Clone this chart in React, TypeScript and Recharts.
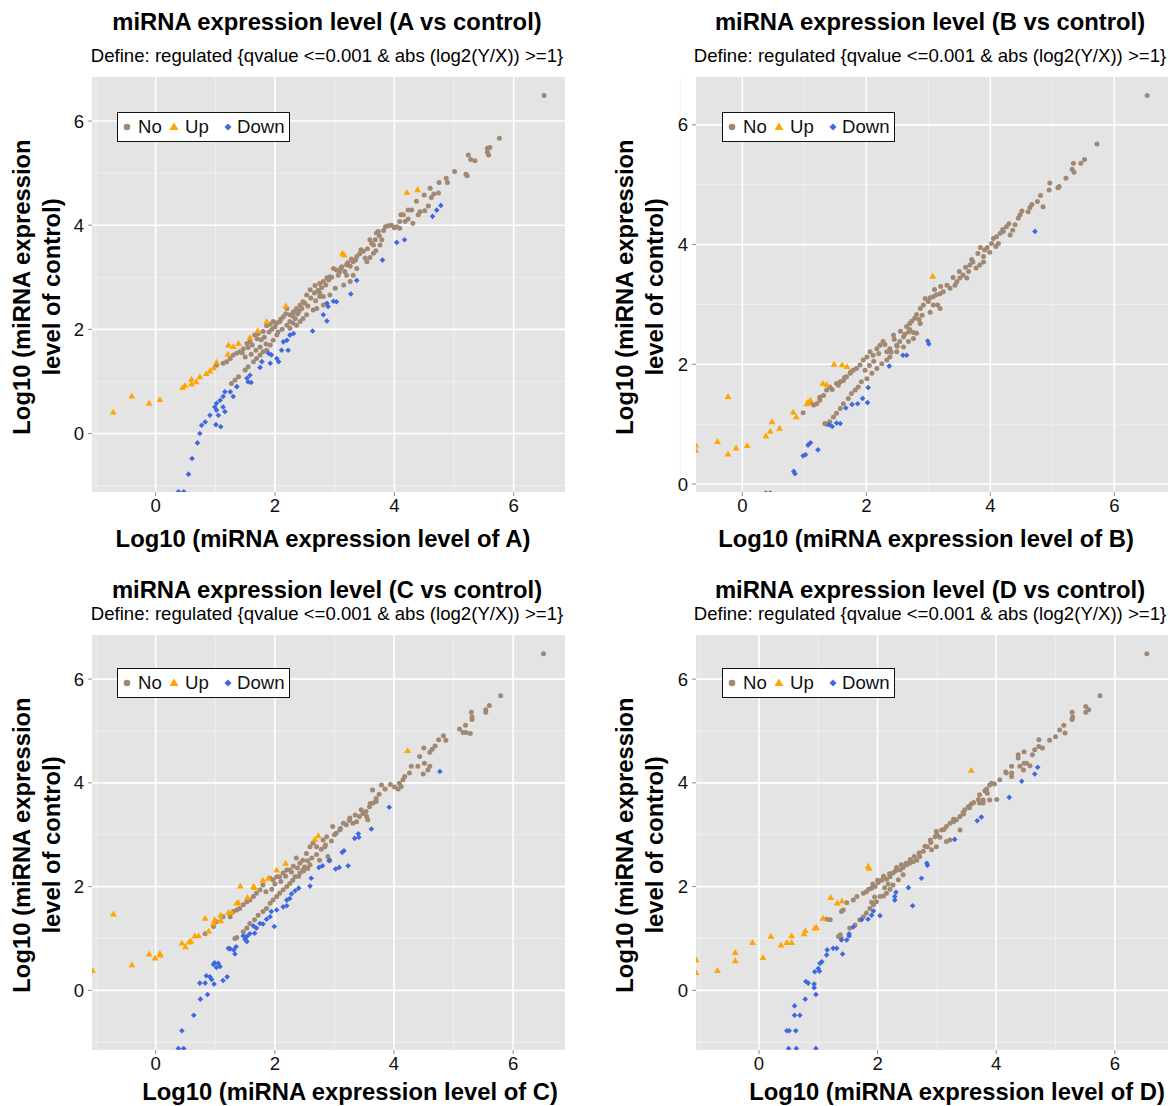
import React from 'react';
import { ScatterChart, Scatter, XAxis, YAxis, CartesianGrid } from 'recharts';

type P = [number, number];

// ---- data (log10 sample, log10 control) ----
const aNo: P[] = [
  [6.51, 6.49], [5.76, 5.67], [5.56, 5.48], [5.60, 5.49], [5.56, 5.40], [5.58, 5.35], [5.24, 5.35], [5.28, 5.26],
  [5.35, 5.24], [5.20, 4.98], [5.22, 4.95], [5.01, 5.03], [4.89, 4.82], [4.87, 4.90], [4.75, 4.82], [4.60, 4.71],
  [4.74, 4.62], [4.66, 4.60], [4.50, 4.58], [4.62, 4.53], [4.37, 4.46], [4.57, 4.37], [4.51, 4.28], [4.40, 4.20],
  [4.43, 4.26], [4.29, 4.29], [4.23, 4.29], [4.15, 4.20], [4.11, 4.20], [4.31, 4.04], [4.23, 4.12], [4.09, 4.07],
  [4.18, 4.07], [4.04, 3.97], [4.09, 3.94], [3.85, 3.97], [3.90, 3.99], [3.73, 3.88], [3.70, 3.85], [3.68, 3.72],
  [3.79, 3.72], [3.76, 3.62], [3.59, 3.72], [3.65, 3.62], [3.69, 3.51], [3.65, 3.46], [3.59, 3.38], [3.54, 3.30],
  [3.51, 3.37], [3.44, 3.53], [3.37, 3.40], [3.31, 3.30], [3.26, 3.21], [3.20, 3.24], [3.17, 3.11], [3.10, 3.17],
  [3.03, 3.14], [2.98, 3.17], [2.92, 3.01], [2.87, 2.99], [2.81, 2.92], [2.75, 2.88], [3.06, 3.04], [3.15, 2.85],
  [3.20, 3.04], [3.26, 2.92], [3.37, 3.17], [3.31, 3.04], [3.01, 2.79], [2.92, 2.66], [2.81, 2.63], [2.75, 2.63],
  [2.67, 2.84], [2.59, 2.76], [2.53, 2.66], [2.47, 2.53], [2.42, 2.47], [2.36, 2.40], [2.31, 2.34], [2.25, 2.28],
  [2.20, 2.40], [2.14, 2.24], [2.08, 2.15], [2.03, 2.12], [1.97, 2.15], [1.92, 2.10], [1.86, 2.07], [1.80, 1.96],
  [1.72, 1.92], [1.66, 1.89], [1.58, 1.76], [1.53, 1.73], [1.47, 1.63], [1.41, 1.57], [1.36, 1.54], [1.30, 1.51],
  [1.25, 1.44], [1.19, 1.38], [1.13, 1.35], [1.02, 1.31], [2.03, 1.89], [1.97, 1.79], [1.92, 1.70], [1.86, 1.60],
  [1.80, 1.57], [1.75, 1.51], [1.69, 1.44], [1.64, 1.38], [1.55, 1.28], [1.50, 1.22], [1.39, 1.09], [1.33, 1.03],
  [1.27, 0.96], [2.25, 2.02], [2.36, 2.08], [2.42, 2.15], [2.47, 2.21], [2.53, 2.28], [2.64, 2.37], [2.70, 2.40],
  [2.81, 2.47], [2.25, 2.15], [2.34, 2.21], [2.60, 2.60], [2.66, 2.70], [2.72, 2.75], [2.78, 2.80], [2.85, 2.85],
  [2.90, 2.95], [2.95, 3.00], [3.08, 3.10], [3.12, 3.20], [3.22, 3.28], [3.28, 3.35], [3.35, 3.33], [3.42, 3.45],
  [3.48, 3.50], [3.55, 3.55], [3.62, 3.65], [3.75, 3.80], [3.82, 3.90], [3.95, 4.00], [4.00, 3.95], [2.40, 2.35],
  [2.30, 2.25], [2.18, 2.30], [2.10, 2.20], [2.00, 2.05], [1.95, 2.00], [1.90, 1.95], [1.82, 1.85], [1.77, 1.80],
  [1.70, 1.82], [1.62, 1.70], [1.55, 1.65], [1.45, 1.55], [1.50, 1.47], [1.60, 1.52], [1.68, 1.60], [1.75, 1.66],
  [1.85, 1.72], [2.05, 1.95], [2.12, 2.00], [2.20, 2.08], [2.30, 2.12], [2.38, 2.30], [2.45, 2.40], [2.50, 2.50],
  [2.55, 2.45], [2.68, 2.55], [2.75, 2.70],
];
const aUp: P[] = [
  [-0.71, 0.41], [-0.40, 0.72], [-0.11, 0.58], [0.07, 0.65], [0.45, 0.88], [0.49, 0.92], [0.60, 1.04], [0.68, 0.99],
  [0.60, 0.95], [0.74, 1.09], [0.85, 1.15], [0.91, 1.20], [0.97, 1.26], [1.02, 1.37], [1.21, 1.52], [1.22, 1.70],
  [1.30, 1.67], [1.39, 1.73], [1.58, 1.84], [1.71, 1.97], [1.86, 2.15], [2.18, 2.45], [3.13, 3.46], [3.16, 3.43],
  [4.21, 4.63], [4.39, 4.68],
];
const aDown: P[] = [
  [4.78, 4.38], [4.71, 4.29], [4.64, 4.17], [4.17, 3.72], [4.04, 3.67], [3.80, 3.33], [3.37, 2.94], [3.27, 2.68],
  [3.03, 2.53], [2.98, 2.54], [2.87, 2.50], [2.89, 2.44], [2.81, 2.28], [2.87, 2.16], [2.63, 1.97], [2.31, 1.92],
  [2.25, 1.89], [2.20, 1.79], [2.14, 1.76], [2.22, 1.60], [2.11, 1.60], [2.06, 1.38], [2.03, 1.44], [1.94, 1.51],
  [1.92, 1.35], [1.89, 1.54], [1.78, 1.38], [1.75, 1.27], [1.58, 1.12], [1.53, 1.06], [1.55, 0.99], [1.60, 0.98],
  [1.36, 0.90], [1.30, 0.71], [1.25, 0.80], [1.16, 0.80], [1.13, 0.71], [1.08, 0.64], [1.02, 0.58], [0.99, 0.51],
  [1.02, 0.45], [1.13, 0.51], [1.16, 0.42], [1.05, 0.35], [1.09, 0.13], [1.01, 0.17], [0.91, 0.35], [0.83, 0.22],
  [0.77, 0.16], [0.74, 0.00], [0.70, -0.18], [0.61, -0.48], [0.55, -0.78], [0.38, -1.12], [0.47, -1.12],
];

const bNo: P[] = [
  [6.53, 6.49], [5.72, 5.68], [5.52, 5.42], [5.46, 5.36], [5.34, 5.36], [5.32, 5.26], [5.35, 5.21], [5.22, 5.11],
  [5.11, 4.97], [5.09, 4.95], [4.96, 5.03], [4.95, 4.91], [4.81, 4.82], [4.76, 4.72], [4.85, 4.63], [4.67, 4.67],
  [4.64, 4.62], [4.61, 4.55], [4.51, 4.56], [4.48, 4.50], [4.45, 4.44], [4.40, 4.33], [4.36, 4.24], [4.32, 4.16],
  [4.26, 4.30], [4.21, 4.22], [4.16, 4.19], [4.10, 4.13], [4.13, 4.02], [4.09, 3.97], [4.02, 4.02], [3.99, 3.87],
  [3.91, 3.91], [3.89, 3.80], [3.84, 3.95], [3.89, 3.71], [3.83, 3.66], [3.77, 3.61], [3.72, 3.71], [3.67, 3.66],
  [3.65, 3.55], [3.62, 3.44], [3.56, 3.49], [3.51, 3.44], [3.46, 3.38], [3.43, 3.32], [3.35, 3.27], [3.30, 3.32],
  [3.24, 3.21], [3.19, 3.18], [3.13, 3.16], [3.08, 3.13], [3.03, 3.11], [3.15, 2.99], [3.19, 2.93], [3.08, 2.99],
  [3.03, 2.87], [2.92, 2.99], [2.87, 2.93], [2.81, 2.83], [2.78, 2.77], [2.73, 2.72], [2.70, 2.68], [2.65, 2.63],
  [2.87, 2.68], [2.81, 2.52], [2.76, 2.53], [2.68, 2.54], [2.60, 2.46], [2.54, 2.38], [2.49, 2.32], [2.44, 2.49],
  [2.38, 2.26], [2.33, 2.21], [2.27, 2.38], [2.22, 2.32], [2.17, 2.26], [2.11, 2.15], [2.06, 2.21], [2.01, 2.12],
  [1.95, 2.07], [1.90, 1.99], [1.84, 1.93], [1.79, 1.90], [1.74, 1.85], [1.68, 1.79], [1.63, 1.73], [1.58, 1.71],
  [1.52, 1.68], [1.41, 1.62], [1.36, 1.57], [1.31, 1.48], [1.25, 1.40], [1.20, 1.34], [1.15, 1.32], [0.98, 1.19],
  [2.38, 2.12], [2.33, 2.07], [2.25, 2.01], [2.17, 1.93], [2.09, 1.85], [2.01, 1.76], [1.92, 1.71], [1.87, 1.62],
  [1.82, 1.57], [1.76, 1.51], [1.71, 1.43], [1.63, 1.34], [1.58, 1.26], [1.52, 1.18], [1.47, 1.12], [1.41, 1.04],
  [1.36, 1.00], [1.33, 1.01], [2.49, 2.21], [2.60, 2.29], [2.68, 2.38], [2.76, 2.43], [3.00, 3.05], [2.95, 3.10],
  [3.10, 3.25], [3.20, 3.30], [3.40, 3.45], [3.50, 3.55], [3.60, 3.62], [3.70, 3.75], [3.80, 3.85], [3.95, 3.95],
  [4.05, 4.10], [4.20, 4.25], [4.30, 4.35], [2.55, 2.55], [2.45, 2.42], [2.30, 2.33], [2.20, 2.18], [2.12, 2.05],
  [2.05, 1.98], [1.98, 1.90], [2.40, 2.20], [2.50, 2.30], [2.62, 2.50], [2.70, 2.58], [2.85, 2.75], [2.90, 2.82],
  [1.45, 1.58], [1.55, 1.65], [1.65, 1.78], [1.75, 1.87], [1.25, 1.45], [1.10, 1.36],
];
const bUp: P[] = [
  [-0.75, 0.65], [-0.75, 0.56], [-0.40, 0.71], [-0.23, 1.46], [-0.23, 0.50], [-0.10, 0.60], [0.08, 0.64], [0.38, 0.80],
  [0.45, 0.88], [0.48, 1.04], [0.60, 0.93], [0.82, 1.20], [0.87, 1.12], [1.04, 1.34], [1.06, 1.37], [1.10, 1.40],
  [1.30, 1.68], [1.36, 1.66], [1.48, 2.00], [1.61, 1.99], [1.69, 1.96], [3.07, 3.47],
];
const bDown: P[] = [
  [4.72, 4.22], [2.99, 2.39], [3.01, 2.34], [2.59, 2.15], [2.65, 2.15], [2.37, 1.97], [2.03, 1.61], [2.02, 1.36],
  [1.94, 1.43], [1.86, 1.34], [1.77, 1.33], [1.67, 1.27], [1.58, 1.01], [1.52, 1.02], [1.45, 0.96], [1.40, 0.99],
  [1.22, 0.57], [1.10, 0.69], [1.06, 0.65], [1.02, 0.49], [0.98, 0.47], [0.83, 0.21], [0.85, 0.17], [0.38, -0.15],
  [0.45, -0.15],
];

const cNo: P[] = [
  [6.51, 6.49], [5.79, 5.68], [5.60, 5.49], [5.54, 5.41], [5.54, 5.36], [5.30, 5.36], [5.31, 5.27], [5.31, 5.22],
  [5.20, 5.11], [5.10, 5.04], [5.16, 4.97], [5.21, 4.97], [5.28, 4.95], [4.83, 4.91], [4.87, 4.82], [4.75, 4.83],
  [4.69, 4.71], [4.64, 4.65], [4.60, 4.59], [4.50, 4.67], [4.43, 4.51], [4.51, 4.38], [4.49, 4.17], [4.57, 4.25],
  [4.60, 4.32], [4.40, 4.32], [4.29, 4.32], [4.26, 4.19], [4.18, 4.12], [4.15, 4.06], [4.09, 3.99], [4.07, 3.88],
  [4.12, 3.93], [4.01, 3.92], [3.94, 3.97], [3.79, 3.96], [3.64, 3.86], [3.70, 3.70], [3.70, 3.64], [3.65, 3.61],
  [3.59, 3.54], [3.53, 3.45], [3.48, 3.41], [3.54, 3.35], [3.56, 3.29], [3.42, 3.35], [3.37, 3.25], [3.31, 3.22],
  [3.26, 3.32], [3.20, 3.19], [3.15, 3.22], [3.09, 3.09], [3.03, 3.03], [2.97, 3.16], [2.87, 2.96], [2.81, 2.90],
  [2.84, 2.77], [2.89, 2.58], [2.92, 2.51], [2.75, 2.51], [2.70, 2.77], [2.64, 2.84], [2.59, 2.77], [2.53, 2.64],
  [2.47, 2.51], [2.42, 2.45], [2.36, 2.55], [2.31, 2.39], [2.25, 2.32], [2.20, 2.32], [2.14, 2.26], [2.08, 2.19],
  [2.03, 2.19], [1.97, 2.13], [1.92, 2.16], [1.80, 2.03], [1.75, 1.94], [1.69, 1.87], [1.64, 1.81], [1.58, 1.74],
  [1.53, 1.71], [1.47, 1.65], [1.41, 1.58], [1.36, 1.55], [1.30, 1.52], [1.25, 1.42], [1.13, 1.42], [1.02, 1.32],
  [0.97, 1.23], [0.83, 1.09], [2.59, 2.42], [2.47, 2.32], [2.42, 2.26], [2.34, 2.19], [2.25, 2.06], [2.20, 2.00],
  [2.14, 1.94], [2.08, 1.87], [2.03, 1.81], [1.97, 1.74], [1.92, 1.68], [1.86, 1.58], [1.80, 1.52], [1.72, 1.45],
  [1.66, 1.36], [1.58, 1.29], [1.53, 1.20], [1.47, 1.13], [1.36, 1.02], [1.33, 1.00], [3.10, 3.12], [3.25, 3.28],
  [3.35, 3.38], [3.45, 3.48], [3.60, 3.60], [3.75, 3.78], [3.85, 3.88], [3.00, 3.00], [2.95, 2.88], [2.85, 2.80],
  [2.78, 2.72], [2.70, 2.62], [2.62, 2.55], [2.55, 2.50], [2.50, 2.38], [2.38, 2.36], [2.28, 2.28], [2.18, 2.20],
  [2.10, 2.10], [2.00, 2.05], [1.95, 1.95], [1.85, 1.90], [2.30, 2.12], [2.40, 2.20], [2.48, 2.30], [2.55, 2.35],
];
const cUp: P[] = [
  [-1.06, 0.38], [-0.71, 1.47], [-0.40, 0.49], [-0.11, 0.70], [-0.01, 0.62], [0.07, 0.71], [0.08, 0.68], [0.44, 0.91],
  [0.50, 0.84], [0.56, 0.93], [0.59, 0.95], [0.66, 1.05], [0.72, 1.05], [0.83, 1.39], [0.89, 1.14], [0.97, 1.29],
  [0.99, 1.36], [1.09, 1.45], [1.09, 1.34], [1.22, 1.50], [1.27, 1.50], [1.36, 1.68], [1.39, 1.69], [1.42, 2.01],
  [1.54, 1.79], [1.64, 2.00], [1.66, 1.98], [1.80, 2.12], [1.89, 2.16], [2.03, 2.32], [2.18, 2.45], [2.67, 2.91],
  [2.73, 2.98], [4.23, 4.62],
];
const cDown: P[] = [
  [4.77, 4.22], [3.92, 3.53], [3.62, 3.11], [3.40, 3.02], [3.34, 2.93], [3.41, 2.95], [3.16, 2.69], [3.13, 2.66],
  [3.23, 2.40], [3.08, 2.37], [3.02, 2.34], [2.91, 2.50], [2.80, 2.40], [2.74, 2.37], [2.61, 2.16], [2.59, 2.01],
  [2.40, 1.97], [2.34, 1.92], [2.28, 1.86], [2.25, 1.77], [2.20, 1.74], [2.20, 1.63], [2.14, 1.61], [2.03, 1.55],
  [1.94, 1.52], [1.92, 1.42], [1.86, 1.37], [1.80, 1.28], [1.75, 1.29], [1.69, 1.20], [1.64, 1.24], [1.66, 1.10],
  [1.58, 1.09], [1.53, 1.04], [1.47, 1.05], [1.53, 0.94], [1.50, 0.98], [1.99, 1.23], [1.33, 0.70], [1.25, 0.80],
  [1.22, 0.81], [1.35, 0.84], [1.31, 0.78], [1.05, 0.52], [1.02, 0.44], [0.99, 0.53], [0.97, 0.50], [1.08, 0.46],
  [0.91, 0.26], [0.94, 0.21], [0.85, 0.28], [0.83, 0.14], [0.74, 0.14], [0.98, 0.12], [1.13, 0.19], [1.20, 0.26],
  [0.87, -0.08], [0.75, -0.17], [0.64, -0.48], [0.44, -0.78], [0.38, -1.12], [0.47, -1.12],
];

const dNo: P[] = [
  [6.54, 6.49], [5.75, 5.68], [5.51, 5.47], [5.56, 5.41], [5.51, 5.36], [5.28, 5.36], [5.29, 5.27], [5.28, 5.22],
  [5.14, 5.11], [5.16, 4.96], [5.00, 4.89], [5.07, 5.02], [4.90, 4.82], [4.72, 4.83], [4.72, 4.70], [4.78, 4.67],
  [4.65, 4.64], [4.61, 4.54], [4.47, 4.60], [4.37, 4.54], [4.37, 4.48], [4.47, 4.38], [4.51, 4.38], [4.57, 4.33],
  [4.40, 4.32], [4.46, 4.25], [4.26, 4.32], [4.26, 4.19], [4.17, 4.19], [4.26, 4.12], [4.16, 4.21], [4.06, 4.06],
  [3.97, 3.98], [3.92, 3.99], [3.89, 3.96], [3.84, 3.88], [3.81, 3.85], [3.72, 3.77], [3.78, 3.67], [4.01, 3.68],
  [3.89, 3.67], [3.72, 3.61], [3.78, 3.61], [3.58, 3.59], [3.53, 3.54], [3.47, 3.48], [3.44, 3.43], [3.39, 3.35],
  [3.33, 3.29], [3.28, 3.25], [3.22, 3.22], [3.16, 3.16], [3.08, 3.09], [2.99, 3.06], [2.97, 2.96], [2.89, 2.90],
  [2.84, 2.77], [2.91, 2.71], [2.99, 2.77], [3.16, 2.87], [3.22, 2.90], [3.39, 3.09], [2.77, 2.68], [2.71, 2.58],
  [2.66, 2.51], [2.60, 2.48], [2.54, 2.45], [2.49, 2.42], [2.43, 2.37], [2.38, 2.32], [2.32, 2.37], [2.26, 2.26],
  [2.21, 2.19], [2.15, 2.14], [2.07, 2.12], [2.01, 2.08], [1.96, 2.00], [1.90, 1.97], [1.81, 1.90], [1.76, 1.87],
  [1.65, 1.81], [1.59, 1.74], [1.48, 1.69], [1.39, 1.52], [1.42, 1.55], [1.20, 1.36], [1.14, 1.37], [2.43, 2.23],
  [2.35, 2.13], [2.26, 2.03], [2.21, 1.95], [2.15, 1.87], [2.10, 1.82], [2.04, 1.81], [1.98, 1.71], [1.93, 1.65],
  [1.87, 1.58], [1.81, 1.49], [1.76, 1.42], [1.70, 1.36], [1.62, 1.26], [1.53, 1.20], [1.37, 1.07], [1.34, 1.04],
  [1.39, 1.00], [3.00, 3.00], [3.05, 2.95], [3.12, 3.10], [3.28, 3.30], [3.45, 3.40], [3.55, 3.52], [3.62, 3.62],
  [3.70, 3.68], [3.85, 3.80], [2.90, 2.85], [2.80, 2.78], [2.70, 2.65], [2.62, 2.58], [2.55, 2.52], [2.48, 2.45],
  [2.40, 2.42], [2.30, 2.30], [2.20, 2.25], [2.10, 2.20], [2.00, 2.12], [1.92, 2.05], [1.85, 1.95], [2.12, 1.98],
  [2.18, 2.05], [1.95, 1.80], [1.90, 1.70],
];
const dUp: P[] = [
  [-1.06, 0.59], [-1.06, 0.34], [-0.70, 0.38], [-0.40, 0.73], [-0.40, 0.57], [-0.11, 0.92], [0.07, 0.63], [0.20, 1.04],
  [0.37, 0.87], [0.47, 0.92], [0.55, 0.92], [0.55, 1.05], [0.76, 1.09], [0.78, 1.15], [0.94, 1.20], [0.97, 1.21],
  [1.08, 1.39], [1.21, 1.79], [1.32, 1.68], [1.40, 1.72], [1.84, 2.39], [1.86, 2.35], [3.58, 4.24],
];
const dDown: P[] = [
  [4.70, 4.30], [4.65, 4.17], [4.43, 4.03], [4.22, 3.72], [3.75, 3.34], [3.68, 3.27], [3.30, 2.91], [2.83, 2.45],
  [2.84, 2.41], [2.74, 2.16], [2.52, 1.98], [2.31, 1.89], [2.29, 1.81], [2.29, 1.74], [2.59, 1.63], [2.04, 1.44],
  [1.93, 1.53], [1.90, 1.45], [1.84, 1.37], [1.73, 1.36], [1.59, 1.22], [1.52, 1.05], [1.48, 0.97], [1.39, 0.97],
  [1.52, 1.09], [1.41, 0.70], [1.31, 0.81], [1.25, 0.81], [1.15, 0.78], [1.14, 0.68], [1.06, 0.55], [1.03, 0.52],
  [1.00, 0.42], [0.94, 0.36], [1.02, 0.37], [0.79, 0.17], [0.83, 0.14], [0.93, 0.12], [0.93, 0.05], [0.96, -0.08],
  [0.78, -0.17], [0.60, -0.30], [0.60, -0.48], [0.69, -0.48], [0.47, -0.78], [0.51, -0.78], [0.62, -0.78],
  [0.50, -1.12], [0.63, -1.12], [0.96, -1.12],
];

const majorTicks = [0, 2, 4, 6];
const minorTicks = [-1, 1, 3, 5];

const BROWN = '#a18872';
const ORANGE = '#ffa500';
const BLUE = '#3f68e0';
const FONT = '"Liberation Sans", Arial, Helvetica, sans-serif';

const toPts = (arr: P[]) => arr.map(([x, y]) => ({ x, y }));

const NoDot = (p: any) => <circle cx={p.cx} cy={p.cy} r={2.5} fill={BROWN} />;
const UpTri = (p: any) => (
  <path d={`M${p.cx},${p.cy - 3.5} L${p.cx + 3.4},${p.cy + 2.4} L${p.cx - 3.4},${p.cy + 2.4} Z`} fill={ORANGE} />
);
const DownDia = (p: any) => (
  <path d={`M${p.cx},${p.cy - 2.8} L${p.cx + 2.8},${p.cy} L${p.cx},${p.cy + 2.8} L${p.cx - 2.8},${p.cy} Z`} fill={BLUE} />
);

// page-space layout of the four panels
const panels = [
  {
    name: 'A', no: aNo, up: aUp, down: aDown,
    xDomain: [-1.067, 6.86], yDomain: [-1.123, 6.846],
    left: 0, top: 0, plotLeft: 92, plotRight: 565,
    titleX: 327, titleY: 22, subY: 56, xTitleX: 323, xTitleY: 539, yTitleX: 37, yTitleY: 287,
    legendX: 117, legendY: 112,
  },
  {
    name: 'B', no: bNo, up: bUp, down: bDown,
    xDomain: [-0.747, 6.866], yDomain: [-0.134, 6.8],
    left: 600, top: 0, plotLeft: 96, plotRight: 568,
    titleX: 930, titleY: 22, subY: 56, xTitleX: 926, xTitleY: 539, yTitleX: 640, yTitleY: 287,
    legendX: 722, legendY: 112,
  },
  {
    name: 'C', no: cNo, up: cUp, down: cDown,
    xDomain: [-1.069, 6.87], yDomain: [-1.15, 6.85],
    left: 0, top: 558, plotLeft: 92, plotRight: 565,
    titleX: 327, titleY: 590, subY: 614, xTitleX: 350, xTitleY: 1092, yTitleX: 37, yTitleY: 845,
    legendX: 117, legendY: 668,
  },
  {
    name: 'D', no: dNo, up: dUp, down: dDown,
    xDomain: [-1.062, 6.897], yDomain: [-1.15, 6.85],
    left: 600, top: 558, plotLeft: 96, plotRight: 568,
    titleX: 930, titleY: 590, subY: 614, xTitleX: 957, xTitleY: 1092, yTitleX: 640, yTitleY: 845,
    legendX: 722, legendY: 668,
  },
];

const CHART_W = 572;

const LegendBox: React.FC<{ x: number; y: number }> = ({ x, y }) => (
  <div style={{
    position: 'absolute', left: x, top: y, width: 173, height: 30, boxSizing: 'border-box',
    background: 'white', border: '1.5px solid #111', fontSize: 18.6, fontFamily: FONT, color: '#111',
  }}>
    <svg width={173} height={28} style={{ position: 'absolute', left: 0, top: 0 }}>
      <circle cx={9} cy={14} r={3.3} fill={BROWN} />
      <path d="M56,9.5 L60.5,17 L51.5,17 Z" fill={ORANGE} />
      <path d="M110,10.5 L113.5,14 L110,17.5 L106.5,14 Z" fill={BLUE} />
    </svg>
    <span style={{ position: 'absolute', left: 20, top: 3, lineHeight: '22px' }}>No</span>
    <span style={{ position: 'absolute', left: 67, top: 3, lineHeight: '22px' }}>Up</span>
    <span style={{ position: 'absolute', left: 119, top: 3, lineHeight: '22px' }}>Down</span>
  </div>
);

const centered = (cx: number, cy: number, size: number, bold: boolean): React.CSSProperties => ({
  position: 'absolute', left: cx - 320, top: cy - size * 0.6, width: 640, textAlign: 'center',
  fontSize: size, lineHeight: `${size * 1.2}px`, fontWeight: bold ? 700 : 400, whiteSpace: 'nowrap', color: '#000',
});

export default function App() {
  return (
    <div style={{
      position: 'absolute', left: 0, top: 0, width: 1172, height: 1106, overflow: 'hidden',
      background: 'white', fontFamily: FONT,
    }}>
      {panels.map((p) => (
        <React.Fragment key={p.name}>
          <div style={centered(p.titleX, p.titleY, 23.8, true)}>miRNA expression level ({p.name} vs control)</div>
          <div style={centered(p.titleX, p.subY, 18.6, false)}>
            {'Define: regulated {qvalue <=0.001 & abs (log2(Y/X)) >=1}'}
          </div>
          <div style={centered(p.xTitleX, p.xTitleY, 23.8, true)}>Log10 (miRNA expression level of {p.name})</div>
          <div style={{
            position: 'absolute', left: p.yTitleX - 210, top: p.yTitleY - 30, width: 420, height: 60,
            textAlign: 'center', fontSize: 23.8, lineHeight: '30px', fontWeight: 700, transform: 'rotate(-90deg)',
            color: '#000',
          }}>
            Log10 (miRNA expression<br />level of control)
          </div>
          <div style={{ position: 'absolute', left: p.left, top: p.top }}>
            <ScatterChart
              width={CHART_W}
              height={520}
              margin={{ top: 77, left: p.plotLeft - 30, right: CHART_W - p.plotRight, bottom: 0 }}
            >
              <CartesianGrid
                fill="#e5e4e4"
                stroke="#f2f2f2"
                strokeWidth={0.8}
                horizontalValues={minorTicks}
                verticalValues={minorTicks}
              />
              <CartesianGrid
                stroke="#ffffff"
                strokeWidth={1.6}
                horizontalValues={majorTicks}
                verticalValues={majorTicks}
              />
              <XAxis
                type="number"
                dataKey="x"
                domain={p.xDomain}
                allowDataOverflow
                ticks={majorTicks}
                height={28}
                axisLine={false}
                tickSize={4}
                tickMargin={3}
                tickLine={{ stroke: '#8a8a8a' }}
                tick={{ fontSize: 18.6, fill: '#111', fontFamily: FONT }}
              />
              <YAxis
                type="number"
                dataKey="y"
                domain={p.yDomain}
                allowDataOverflow
                ticks={majorTicks}
                width={30}
                axisLine={false}
                tickSize={4}
                tickMargin={4}
                tickLine={{ stroke: '#8a8a8a' }}
                tick={{ fontSize: 18.6, fill: '#111', fontFamily: FONT }}
              />
              <Scatter name="No" data={toPts(p.no)} shape={NoDot} isAnimationActive={false} />
              <Scatter name="Up" data={toPts(p.up)} shape={UpTri} isAnimationActive={false} />
              <Scatter name="Down" data={toPts(p.down)} shape={DownDia} isAnimationActive={false} />
            </ScatterChart>
          </div>
          <LegendBox x={p.legendX} y={p.legendY} />
        </React.Fragment>
      ))}
    </div>
  );
}
